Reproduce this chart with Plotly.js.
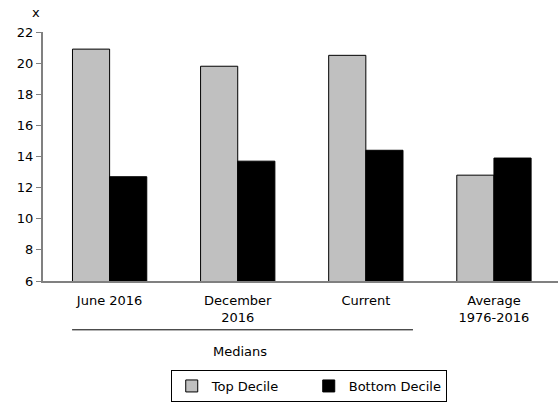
<!DOCTYPE html>
<html>
<head>
<meta charset="utf-8">
<script src="https://cdn.plot.ly/plotly-3.0.1.min.js"></script>
<style>html,body{margin:0;padding:0;background:#fff;}#chart{width:558px;height:402px;}</style>
</head>
<body>
<div id="chart"></div>
<script>
const categories = ["June 2016", "December<br>2016", "Current", "Average<br>1976-2016"];
const topDecile = [20.9, 19.8, 20.5, 12.8];
const bottomDecile = [12.7, 13.7, 14.4, 13.9];
const yTicks = [6, 8, 10, 12, 14, 16, 18, 20, 22];

const font = {family: "DejaVu Sans, Verdana, sans-serif", size: 13, color: "#000"};

const traces = [
  {type: "bar", name: "Top Decile", x: categories, y: topDecile,
   marker: {color: "#c0c0c0", line: {color: "#000", width: 1}}},
  {type: "bar", name: "Bottom Decile", x: categories, y: bottomDecile,
   marker: {color: "#000000", line: {color: "#000", width: 1}}}
];

const layout = {
  width: 558, height: 402,
  margin: {l: 43, r: 0, t: 32, b: 120},
  paper_bgcolor: "#fff", plot_bgcolor: "#fff",
  font: font,
  barmode: "group", bargap: 0.42, bargroupgap: 0,
  showlegend: true,
  legend: {orientation: "h", x: 0.516, xanchor: "center", y: -0.356, yanchor: "top",
           bordercolor: "#000", borderwidth: 1, font: font, traceorder: "normal",
           entrywidth: 92, itemwidth: 30},
  xaxis: {type: "category", range: [-0.52, 3.5], showline: true, linecolor: "#808080", linewidth: 2,
          ticks: "", showgrid: false, zeroline: false, ticklabelstandoff: 6,
          tickfont: font},
  yaxis: {range: [6, 22], tickvals: yTicks, ticks: "outside", ticklen: 5,
          tickcolor: "#808080", showline: true, linecolor: "#808080", linewidth: 2,
          showgrid: false, zeroline: false, tickfont: font},
  shapes: [
    {type: "line", xref: "x", yref: "paper", x0: -0.293, x1: 2.368, y0: -0.196, y1: -0.196,
     line: {color: "#000", width: 1}}
  ],
  annotations: [
    {text: "Medians", xref: "x", yref: "paper", x: 1.018, y: -0.285, showarrow: false,
     xanchor: "center", yanchor: "middle", font: font},
    {text: "x", xref: "paper", yref: "paper", x: -0.0136, y: 1.08, showarrow: false,
     xanchor: "center", yanchor: "middle", font: font}
  ]
};

Plotly.newPlot("chart", traces, layout, {staticPlot: true, displayModeBar: false});
</script>
</body>
</html>
